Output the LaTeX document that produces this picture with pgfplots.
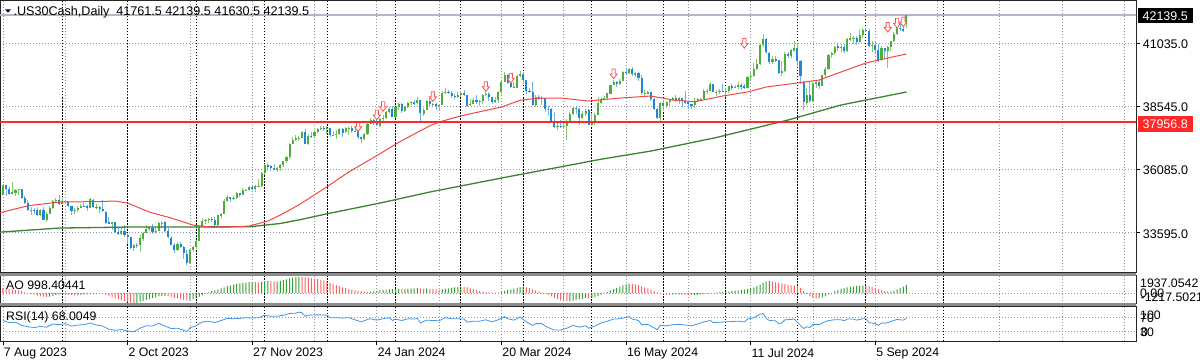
\documentclass[border=0pt]{standalone}
\usepackage{pgfplots}
\pgfplotsset{compat=1.18}
\usepackage{pgfplotstable}
\usepackage{fontspec}
\setmainfont{Liberation Sans}
\definecolor{cgreen}{RGB}{76,175,60}
\definecolor{cgreenw}{RGB}{135,200,115}
\definecolor{cblue}{RGB}{30,136,210}
\definecolor{cbluew}{RGB}{115,178,230}
\definecolor{mared}{RGB}{245,70,70}
\definecolor{magreen}{RGB}{60,130,50}
\definecolor{levelred}{RGB}{255,40,40}
\definecolor{silverl}{RGB}{175,185,200}
\definecolor{aogreen}{RGB}{50,160,50}
\definecolor{aored}{RGB}{250,100,100}
\definecolor{rsiblue}{RGB}{60,150,235}
\definecolor{gridgray}{RGB}{140,150,165}
\definecolor{arrred}{RGB}{255,80,80}
\definecolor{sepgray}{RGB}{140,140,140}
\pgfdeclareplotmark{dnarrow}{%
  \pgfpathmoveto{\pgfpoint{-1.6pt}{5pt}}%
  \pgfpathlineto{\pgfpoint{1.6pt}{5pt}}%
  \pgfpathlineto{\pgfpoint{1.6pt}{0pt}}%
  \pgfpathlineto{\pgfpoint{3.6pt}{0pt}}%
  \pgfpathlineto{\pgfpoint{0pt}{-4.6pt}}%
  \pgfpathlineto{\pgfpoint{-3.6pt}{0pt}}%
  \pgfpathlineto{\pgfpoint{-1.6pt}{0pt}}%
  \pgfpathclose
  \pgfusepathqfillstroke}
\pgfplotstableread{
i o h l c
0 35090 35520 35060 35473
1 35470 35480 35050 35314
2 35310 35400 35090 35123
3 35130 35580 35120 35176
4 35170 35330 35050 35281
5 35280 35330 35080 35307
6 35300 35310 34920 34946
7 34950 35050 34740 34765
8 34770 34880 34440 34474
9 34470 34590 34300 34500
10 34500 34560 34340 34463
11 34470 34600 34260 34288
12 34290 34510 34250 34472
13 34480 34620 34080 34099
14 34100 34430 34030 34346
15 34350 34630 34330 34559
16 34560 34890 34510 34852
17 34850 34950 34780 34890
18 34890 35070 34700 34722
19 34720 34980 34680 34838
20 34830 34880 34790 34840
21 34840 34860 34600 34642
22 34640 34650 34310 34443
23 34440 34560 34330 34501
24 34500 34650 34430 34577
25 34580 34710 34560 34664
26 34660 34770 34600 34646
27 34650 34680 34450 34576
28 34580 34960 34560 34907
29 34900 34930 34560 34618
30 34610 34710 34530 34625
31 34620 34640 34370 34518
32 34520 34870 34420 34441
33 34430 34440 33930 33964
34 34000 34230 33930 33964
35 33960 34030 33700 34007
36 34000 34010 33580 33619
37 33620 33850 33500 33551
38 33550 33770 33500 33667
39 33670 33920 33450 33508
40 33500 33580 33140 33433
41 33430 33440 32960 33002
42 33000 33160 32880 33129
43 33130 33200 33010 33120
44 33120 33520 32860 33408
45 33350 33640 33270 33605
46 33600 33900 33580 33740
47 33740 33840 33680 33804
48 33800 33930 33560 33631
49 33630 33830 33540 33670
50 33670 34020 33660 33985
51 33980 34070 33800 33998
52 34000 34060 33620 33665
53 33660 33800 33380 33415
54 33410 33460 33100 33127
55 33120 33200 32800 32937
56 32940 33220 32900 33141
57 33140 33220 32990 33036
58 33030 33070 32570 32785
59 32780 32910 32330 32418
60 32420 32960 32390 32929
61 32930 33070 32840 33053
62 33050 33320 32960 33275
63 33280 33870 33260 33839
64 33840 34190 33820 34061
65 34060 34140 33940 34096
66 34090 34190 33960 34153
67 34150 34200 34000 34112
68 34110 34220 33860 33892
69 33890 34300 33840 34283
70 34280 34360 34160 34337
71 34340 34910 34320 34828
72 34830 35070 34810 34991
73 34990 35000 34800 34945
74 34940 35030 34880 34947
75 34950 35180 34910 35151
76 35150 35170 34990 35088
77 35090 35360 35070 35273
78 35270 35320 35240 35290
79 35290 35420 35260 35390
80 35390 35420 35280 35334
81 35330 35450 35210 35417
82 35420 35710 35400 35430
83 35430 35990 35410 35951
84 35950 36290 35860 36246
85 36240 36320 36010 36204
86 36200 36260 36020 36125
87 36130 36290 36040 36055
88 36050 36180 35970 36118
89 36120 36290 36000 36248
90 36250 36420 36190 36405
91 36400 36600 36330 36578
92 36580 37110 36500 37090
93 37090 37370 37080 37248
94 37250 37430 37180 37306
95 37290 37390 37190 37306
96 37310 37580 37300 37558
97 37560 37650 37060 37083
98 37080 37450 37040 37405
99 37400 37530 37310 37386
100 37390 37620 37370 37545
101 37540 37690 37510 37657
102 37660 37780 37630 37710
103 37710 37800 37570 37690
104 37690 37800 37470 37715
105 37710 37720 37370 37430
106 37430 37600 37380 37440
107 37440 37640 37270 37466
108 37460 37720 37420 37683
109 37680 37690 37360 37525
110 37530 37750 37500 37696
111 37700 37800 37420 37711
112 37710 37780 37500 37593
113 37590 37650 37540 37600
114 37600 37620 37280 37361
115 37360 37370 37120 37267
116 37270 37520 37220 37469
117 37470 37900 37440 37864
118 37860 38110 37850 38001
119 38000 38050 37820 37906
120 37900 38080 37770 37806
121 37800 38090 37760 38050
122 38050 38200 37960 38109
123 38110 38360 38070 38333
124 38330 38520 38300 38467
125 38460 38560 38120 38150
126 38150 38540 38100 38519
127 38520 38700 38410 38654
128 38650 38680 38280 38380
129 38380 38560 38350 38521
130 38520 38720 38490 38677
131 38680 38780 38620 38726
132 38730 38790 38590 38672
133 38670 38930 38650 38797
134 38800 38810 37980 38273
135 38270 38480 38190 38424
136 38420 38810 38400 38773
137 38770 38860 38560 38628
138 38630 38680 38580 38650
139 38650 38700 38420 38564
140 38560 38640 38420 38612
141 38610 39150 38600 39069
142 39070 39280 39040 39131
143 39130 39190 39020 39069
144 39070 39140 38890 38972
145 38970 39040 38830 38949
146 38950 39120 38890 38996
147 39000 39160 38900 39087
148 39090 39190 38950 38990
149 38990 39000 38530 38585
150 38590 38850 38570 38661
151 38660 38890 38640 38791
152 38790 38980 38650 38723
153 38720 38800 38580 38770
154 38770 39040 38640 39005
155 39000 39120 38970 39043
156 39040 39110 38750 38906
157 38900 38930 38640 38715
158 38710 38930 38690 38790
159 38790 39150 38700 39111
160 39110 39560 39050 39512
161 39510 39890 39500 39781
162 39780 39810 39440 39476
163 39470 39500 39260 39314
164 39310 39520 39260 39283
165 39280 39790 39260 39760
166 39760 39950 39720 39807
167 39810 39880 39440 39567
168 39570 39580 39050 39170
169 39170 39280 39060 39127
170 39130 39490 38580 38597
171 38600 39000 38530 38904
172 38900 39000 38820 38892
173 38890 38950 38590 38884
174 38880 38890 38330 38462
175 38460 38570 38200 38459
176 38460 38480 37900 37983
177 37980 38330 37700 37735
178 37740 37880 37610 37799
179 37800 38030 37700 37753
180 37750 37950 37670 37775
181 37780 38040 37250 37986
182 37990 38330 37970 38240
183 38240 38560 38210 38504
184 38500 38580 38260 38461
185 38460 38470 37820 38086
186 38090 38380 38060 38240
187 38240 38450 38170 38386
188 38390 38450 37810 37816
189 37810 38300 37780 37903
190 37900 38280 37810 38226
191 38230 38900 38220 38676
192 38680 38900 38640 38852
193 38850 38960 38790 38884
194 38880 39070 38810 39056
195 39050 39400 39020 39388
196 39390 39600 39370 39513
197 39510 39560 39320 39432
198 39430 39620 39380 39558
199 39560 39940 39530 39908
200 39910 40050 39830 39869
201 39870 40060 39820 40004
202 40000 40080 39750 39807
203 39800 39890 39690 39873
204 39870 39900 39550 39671
205 39670 39780 38990 39065
206 39060 39190 38950 39070
207 39070 39160 39050 39100
208 39100 39130 38780 38853
209 38850 38870 38400 38442
210 38440 38500 38040 38112
211 38110 38720 37980 38686
212 38690 38800 38380 38572
213 38570 38780 38490 38711
214 38710 38850 38520 38807
215 38810 38930 38750 38886
216 38890 39010 38720 38799
217 38800 38900 38660 38868
218 38870 38880 38540 38747
219 38750 39150 38650 38712
220 38710 38750 38450 38647
221 38650 38660 38430 38589
222 38590 38880 38480 38778
223 38780 38880 38740 38834
224 38830 38870 38780 38840
225 38840 39250 38830 39135
226 39130 39230 39020 39150
227 39150 39510 39140 39411
228 39410 39430 39100 39112
229 39110 39200 38960 39127
230 39130 39230 39020 39164
231 39160 39430 39100 39119
232 39120 39280 38900 39170
233 39170 39360 39080 39332
234 39330 39420 39200 39308
235 39310 39370 39270 39330
236 39330 39500 39220 39376
237 39380 39460 39200 39345
238 39340 39440 39250 39292
239 39290 39760 39260 39721
240 39720 39920 39580 39754
241 39750 40250 39720 40001
242 40000 40420 39980 40212
243 40210 40980 40180 40954
244 40950 41400 40880 41198
245 41190 41220 40600 40665
246 40660 40700 40200 40288
247 40290 40540 40210 40415
248 40410 40540 40300 40358
249 40360 40380 39810 39854
250 39850 40330 39760 39935
251 39930 40680 39900 40589
252 40590 40700 40450 40540
253 40540 40810 40430 40743
254 40740 41130 40720 40843
255 40840 41040 40140 40347
256 40340 40350 39430 39737
257 39500 39530 38400 38703
258 38700 39260 38600 38997
259 39000 39500 38700 38763
260 38760 39500 38740 39446
261 39450 39560 39270 39498
262 39500 39600 39240 39357
263 39360 39800 39340 39766
264 39770 40090 39720 40009
265 40010 40590 39990 40563
266 40560 40700 40460 40660
267 40660 40920 40580 40897
268 40900 40990 40740 40835
269 40830 41000 40700 40891
270 40890 41000 40650 40713
271 40710 41240 40700 41175
272 41170 41420 41120 41240
273 41240 41290 41010 41250
274 41250 41300 40960 41091
275 41090 41580 41050 41335
276 41330 41620 41250 41563
277 41560 41610 41480 41520
278 41520 41580 40880 40937
279 40930 41110 40700 40975
280 40970 41120 40640 40756
281 40750 40990 40300 40345
282 40350 40900 40330 40830
283 40830 40850 40390 40737
284 40740 40900 40060 40861
285 40860 41130 40710 41097
286 41100 41480 41060 41394
287 41390 41700 41350 41622
288 41620 41860 41490 41606
289 41600 42000 41460 41503
290 41761.5 42139.5 41630.5 42139.5
}\ohlc
\pgfplotstableread{
i v u
0 640 0
1 560 0
2 480 0
3 420 0
4 380 0
5 330 0
6 250 0
7 150 0
8 40 0
9 -80 0
10 -180 0
11 -290 0
12 -360 0
13 -420 0
14 -460 0
15 -420 1
16 -330 1
17 -240 1
18 -170 1
19 -110 1
20 -130 0
21 -190 0
22 -250 0
23 -280 0
24 -260 1
25 -220 1
26 -190 1
27 -160 1
28 -110 1
29 -90 1
30 -70 1
31 -90 0
32 -120 0
33 -240 0
34 -370 0
35 -480 0
36 -620 0
37 -760 0
38 -860 0
39 -960 0
40 -1060 0
41 -1150 0
42 -1200 0
43 -1180 1
44 -1080 1
45 -960 1
46 -820 1
47 -700 1
48 -590 1
49 -500 1
50 -400 1
51 -330 1
52 -320 1
53 -360 0
54 -450 0
55 -560 0
56 -640 0
57 -720 0
58 -800 0
59 -880 0
60 -860 1
61 -760 1
62 -620 1
63 -420 1
64 -230 1
65 -60 1
66 100 1
67 230 1
68 330 1
69 440 1
70 560 1
71 700 1
72 830 1
73 940 1
74 1030 1
75 1110 1
76 1160 1
77 1220 1
78 1270 1
79 1310 1
80 1330 1
81 1310 0
82 1300 0
83 1360 1
84 1440 1
85 1460 1
86 1430 0
87 1400 0
88 1420 1
89 1480 1
90 1560 1
91 1650 1
92 1760 1
93 1850 1
94 1910 1
95 1937 1
96 1930 0
97 1890 0
98 1840 0
99 1790 0
100 1740 0
101 1680 0
102 1600 0
103 1500 0
104 1380 0
105 1240 0
106 1100 0
107 960 0
108 830 0
109 700 0
110 600 0
111 510 0
112 430 0
113 370 0
114 300 0
115 230 0
116 180 0
117 150 0
118 170 1
119 220 1
120 270 1
121 320 1
122 360 1
123 400 1
124 440 1
125 470 1
126 490 1
127 520 1
128 500 0
129 510 1
130 540 1
131 560 1
132 570 1
133 590 1
134 560 0
135 520 0
136 530 1
137 520 0
138 490 0
139 440 0
140 400 0
141 440 1
142 500 1
143 560 1
144 620 1
145 680 1
146 720 1
147 750 1
148 740 0
149 680 0
150 560 0
151 440 0
152 330 0
153 240 0
154 180 0
155 150 0
156 120 0
157 60 0
158 40 0
159 60 1
160 150 1
161 280 1
162 380 1
163 460 1
164 530 1
165 620 1
166 720 1
167 740 1
168 700 0
169 610 0
170 460 0
171 330 0
172 200 0
173 80 0
174 -60 0
175 -200 0
176 -380 0
177 -560 0
178 -720 0
179 -860 0
180 -960 0
181 -1010 0
182 -990 1
183 -900 1
184 -820 1
185 -760 1
186 -680 1
187 -600 1
188 -620 0
189 -580 1
190 -480 1
191 -340 1
192 -180 1
193 -40 1
194 120 1
195 300 1
196 480 1
197 640 1
198 790 1
199 940 1
200 1060 1
201 1150 1
202 1110 0
203 1060 0
204 960 0
205 840 0
206 700 0
207 560 0
208 420 0
209 250 0
210 80 0
211 -60 0
212 -160 0
213 -200 0
214 -190 1
215 -170 1
216 -160 1
217 -150 1
218 -170 0
219 -190 0
220 -220 0
221 -240 0
222 -230 1
223 -200 1
224 -170 1
225 -110 1
226 -60 1
227 10 1
228 30 1
229 60 1
230 90 1
231 120 1
232 140 1
233 180 1
234 230 1
235 290 1
236 340 1
237 380 1
238 420 1
239 480 1
240 560 1
241 680 1
242 830 1
243 1020 1
244 1250 1
245 1420 1
246 1440 1
247 1400 0
248 1320 0
249 1240 0
250 1160 0
251 1080 0
252 990 0
253 930 0
254 910 0
255 880 0
256 640 0
257 250 0
258 -100 0
259 -380 0
260 -560 0
261 -640 0
262 -620 1
263 -520 1
264 -380 1
265 -180 1
266 40 1
267 240 1
268 400 1
269 520 1
270 600 1
271 680 1
272 760 1
273 820 1
274 860 1
275 880 1
276 900 1
277 890 0
278 820 0
279 720 0
280 600 0
281 460 0
282 330 0
283 230 0
284 170 0
285 200 1
286 300 1
287 450 1
288 600 1
289 780 1
290 998 1
}\aotab
\begin{document}
\fontsize{12.3}{14}\selectfont
\begin{tikzpicture}[x=1pt,y=1pt]
\path[use as bounding box] (0pt,0pt) rectangle (1200pt,-364pt);
\pgfplotsset{
  chartx/.style={
    xmin=-0.963, xmax=363.7, width=1136pt, scale only axis,
    xtick={0,20,...,360}, xticklabels={}, xmajorgrids,
    grid style={gridgray, dash pattern=on 1pt off 2pt, line width=0.8pt},
    extra x ticks={19,40,62,84,104,126,147,167,189,212,232,255,277,302},
    extra x tick labels={},
    extra x tick style={xmajorgrids=true, major grid style={black, dash pattern=on 1.5pt off 1.5pt, line width=0.9pt}, major tick length=0pt},
    axis line style={black!85, line width=0.8pt},
    tick label style={font=\fontsize{12.3}{14}\selectfont},
    scaled ticks=false,
  },
}
% ---------------- main price panel
\begin{axis}[chartx, at={(0pt,-0.5pt)}, anchor=north west, height=272pt,
  ymin=32039, ymax=42701,
  ytick={33595,36085,38545,41035},
  yticklabels={33595.0,36085.0,38545.0,41035.0},
  ymajorgrids, ytick pos=right, yticklabel pos=right,
  tick align=outside, major tick length=4pt,
  xtick style={draw=none},
  ytick style={black, line width=0.8pt},
  yticklabel style={anchor=west, inner sep=0pt, xshift=2.7pt, yshift=-1pt, font=\fontsize{12.5}{14}\selectfont},
  restrict y to domain=20000:60000,
]
\addplot[color=silverl, line width=1.4pt, mark=none, solid] coordinates {(-2,42139.5) (370,42139.5)};
% wicks
\addplot[draw=none, mark=none, forget plot, error bars/.cd, y dir=both, y explicit, error mark=none,
  error bar style={draw=cgreenw, solid, line width=1pt}]
  table[x=i, y expr={\thisrow{c}>\thisrow{o} ? (\thisrow{h}+\thisrow{l})/2 : -99999},
        y error expr={(\thisrow{h}-\thisrow{l})/2}] {\ohlc};
\addplot[draw=none, mark=none, forget plot, error bars/.cd, y dir=both, y explicit, error mark=none,
  error bar style={draw=cbluew, solid, line width=1pt}]
  table[x=i, y expr={\thisrow{o}>\thisrow{c} ? (\thisrow{h}+\thisrow{l})/2 : -99999},
        y error expr={(\thisrow{h}-\thisrow{l})/2}] {\ohlc};
% bodies
\addplot[draw=none, mark=none, forget plot, error bars/.cd, y dir=both, y explicit, error mark=none,
  error bar style={draw=cgreen, solid, line width=2.1pt}]
  table[x=i, y expr={\thisrow{c}>\thisrow{o} ? (\thisrow{o}+\thisrow{c})/2 : -99999},
        y error expr={abs(\thisrow{c}-\thisrow{o})/2}] {\ohlc};
\addplot[draw=none, mark=none, forget plot, error bars/.cd, y dir=both, y explicit, error mark=none,
  error bar style={draw=cblue, solid, line width=2.1pt}]
  table[x=i, y expr={\thisrow{o}>\thisrow{c} ? (\thisrow{o}+\thisrow{c})/2 : -99999},
        y error expr={abs(\thisrow{c}-\thisrow{o})/2}] {\ohlc};
% moving averages
\addplot[draw=magreen, line width=1.3pt, mark=none] coordinates {
(-1,33620) (18,33781) (40,33820) (79,33830) (89,33960) (95,34100) (104,34340) (121,34761)
(137,35193) (160,35742) (192,36480) (208,36800) (229,37330) (252,38016) (269,38604) (290,39114)};
\addplot[draw=mared, line width=1pt, mark=none] coordinates {
(-1,34380) (8,34655) (18,34800) (31,34820) (36,34840) (40,34760) (47,34408) (54,34173)
(61,33898) (67,33820) (74,33830) (79,33860) (85,34055) (89,34290) (95,34690) (104,35400)
(111,35980) (120,36620) (127,37140) (137,37790) (140,37937) (147,38180) (160,38525)
(166,38790) (172,38878) (179,38878) (188,38760) (198,38878) (208,38957) (215,38800)
(222,38733) (231,38957) (239,39114) (245,39310) (255,39467) (262,39584) (269,39898)
(277,40251) (284,40447) (290,40604)};
% arrows
\addplot[only marks, mark=dnarrow, mark options={draw=arrred, fill=white, line width=0.8pt, solid}] coordinates {
(114,37753) (120,38212) (122,38537) (138,38929) (155,39322) (163,39651) (196,39820)
(238,41015) (284,41643) (287,41807) (289,41858)};
\end{axis}
% ---------------- AO panel
\begin{axis}[chartx, at={(0pt,-275.5pt)}, anchor=north west, height=28pt,
  ymin=-1251, ymax=2117, ytick={0}, yticklabels={}, ymajorgrids,
  xtick style={draw=none}, ytick style={draw=none},
  restrict y to domain=-5000:5000,
]
\addplot[ybar, bar width=1pt, bar shift=0pt, fill=aogreen, draw=none]
  table[x=i, y expr={\thisrow{u}>0.5 ? \thisrow{v} : -9999}] {\aotab};
\addplot[ybar, bar width=1pt, bar shift=0pt, fill=aored, draw=none]
  table[x=i, y expr={\thisrow{u}<0.5 ? \thisrow{v} : -9999}] {\aotab};
\end{axis}
% ---------------- RSI panel
\begin{axis}[chartx, at={(0pt,-306pt)}, anchor=north west, height=35pt,
  ymin=3.4, ymax=103.4, ytick={30,70}, yticklabels={}, ymajorgrids,
  ytick style={draw=none},
  xtick={0,40,...,280},
  xticklabels={7 Aug 2023,2 Oct 2023,27 Nov 2023,24 Jan 2024,20 Mar 2024,16 May 2024,11 Jul 2024,5 Sep 2024},
  minor xtick={20,60,100,140,180,220,260,300,340,320,360},
  xminorgrids,
  xtick pos=left, tick align=outside, major tick length=4pt, minor tick length=0pt,
  xtick style={black, line width=0.8pt},
  xticklabel style={anchor=north west, inner sep=0pt, xshift=0.8pt, yshift=-3pt},
]
\addplot[draw=rsiblue, line width=0.8pt, mark=none] coordinates {
(0,62) (2,56) (4,57) (6,48) (8,44) (10,42) (12,45) (14,43) (16,52) (18,50) (20,53) (22,46)
(24,49) (26,50) (28,55) (30,49) (32,46) (34,37) (36,34) (38,36) (40,32) (42,30) (44,40)
(46,47) (48,46) (50,54) (52,46) (54,39) (56,40) (58,34) (59,30) (60,41) (62,47) (64,58)
(66,60) (68,56) (70,62) (72,68) (74,67) (76,68) (78,70) (80,69) (82,70) (84,77) (86,74)
(88,74) (90,77) (92,82) (94,83) (95,86) (96,84) (97,74) (98,77) (100,78) (102,78) (104,77)
(105,70) (107,70) (109,69) (111,70) (112,67) (114,61) (115,58) (117,65) (118,67) (120,63)
(122,67) (124,70) (125,62) (126,66) (128,62) (130,67) (132,66) (133,68) (134,55) (136,63)
(138,62) (140,61) (142,70) (144,67) (146,67) (148,66) (149,57) (151,60) (153,60) (155,64)
(157,58) (159,64) (161,73) (162,67) (164,63) (166,72) (167,65) (168,58) (170,48) (171,53)
(173,53) (174,46) (176,38) (177,35) (179,35) (181,40) (183,48) (185,43) (187,47) (188,40)
(190,46) (192,55) (194,60) (196,66) (198,67) (200,71) (201,73) (202,66) (204,62) (205,50)
(207,51) (209,41) (210,36) (211,48) (213,47) (215,50) (217,51) (219,49) (221,47) (223,52)
(225,58) (227,62) (228,56) (230,57) (232,58) (234,59) (236,60) (238,58) (239,66) (241,70)
(243,80) (244,82) (245,68) (246,62) (248,61) (249,53) (250,55) (251,64) (253,65) (254,66)
(255,57) (256,48) (257,39) (258,44) (259,42) (260,51) (262,50) (263,55) (265,62) (267,64)
(269,64) (270,61) (271,66) (273,66) (274,63) (276,67) (277,67) (278,56) (280,53) (281,48)
(282,55) (283,54) (284,56) (285,59) (286,62) (287,65) (289,63) (290,68)};
\end{axis}
% separators
\fill[sepgray] (0pt,-272.5pt) rectangle (1136.4pt,-275.5pt);
\fill[sepgray] (0pt,-303.4pt) rectangle (1136.4pt,-306.2pt);
% title
\fill[black] (5pt,-9.3pt) -- (11pt,-9.3pt) -- (8pt,-12.7pt) -- cycle;
\node[anchor=base west, inner sep=0pt, font=\fontsize{12.6}{14}\selectfont] at (13.3pt,-15.7pt)
  {.US30Cash,Daily\ \ 41761.5 42139.5 41630.5 42139.5};
\node[anchor=base west, inner sep=0pt] at (6pt,-289.3pt) {AO 998.40441};
\node[anchor=base west, inner sep=0pt] at (6pt,-320.7pt) {RSI(14) 68.0049};
% price boxes
\node[fill=black, text=white, minimum width=55pt, minimum height=15pt, inner sep=0pt,
  font=\fontsize{12.5}{14}\selectfont] at (1165.2pt,-15.8pt) {42139.5};
\node[fill=levelred, text=white, minimum width=55pt, minimum height=16pt, inner sep=0pt,
  font=\fontsize{12.5}{14}\selectfont] at (1165.2pt,-123.7pt) {37956.8};
% AO / RSI scale labels
\begin{scope}[every node/.style={anchor=base west, inner sep=0pt, font=\fontsize{12.3}{14}\selectfont}]
\node at (1140pt,-287.3pt) {1937.0542};
\node at (1140pt,-297.7pt) {0.00};
\node at (1140.5pt,-301pt) {-1217.5021};
\node at (1140pt,-319.8pt) {100};
\node at (1140pt,-322.8pt) {70};
\node at (1140pt,-336.3pt) {30};
\node at (1141pt,-336.8pt) {0};
\end{scope}
% ---------------- overlay axis: the red horizontal level, drawn on top
\begin{axis}[at={(0pt,-0.5pt)}, anchor=north west, width=1136pt, height=272pt, scale only axis,
  xmin=-0.963, xmax=363.7, ymin=32039, ymax=42701, hide axis]
\addplot[color=levelred, line width=2pt, mark=none, solid] coordinates {(-0.963,37956.8) (363.7,37956.8)};
\end{axis}
\end{tikzpicture}
\end{document}
